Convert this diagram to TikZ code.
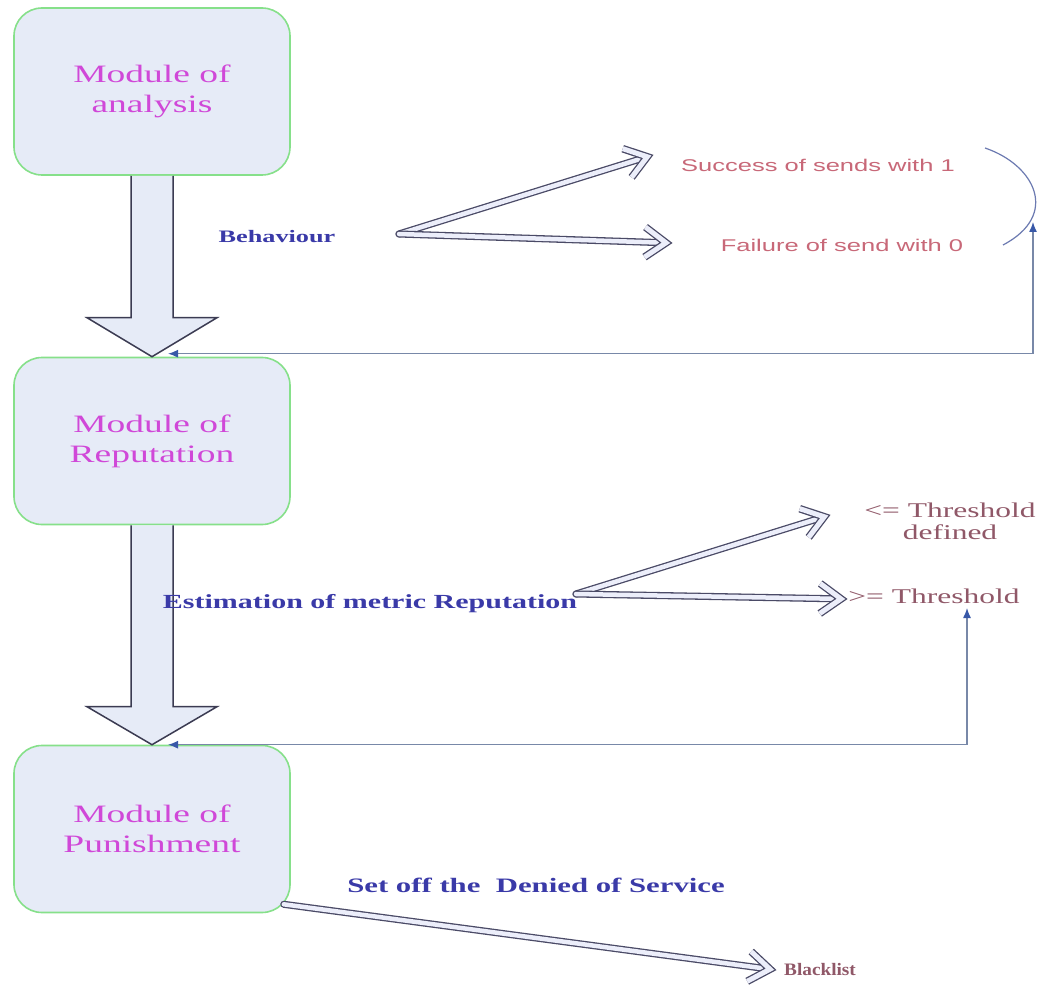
\documentclass[tikz,border=0pt]{standalone}
\usepackage{fontspec}
\setmainfont{Liberation Serif}[FakeStretch=1.5]
\newfontfamily\sansw{Liberation Sans}[FakeStretch=1.5]
\newfontfamily\serifn{Liberation Serif}[FakeStretch=1.1]
\usetikzlibrary{arrows.meta,calc,decorations.markings}
\definecolor{boxfill}{HTML}{E6EBF7}
\definecolor{boxline}{HTML}{86E08A}
\definecolor{modtext}{HTML}{D048D8}
\definecolor{bluetext}{HTML}{3A3AA8}
\definecolor{pinktext}{HTML}{C86878}
\definecolor{mauvetext}{HTML}{905868}
\definecolor{arrline}{HTML}{4A4A66}
\definecolor{arrfill}{HTML}{ECEEFA}
\definecolor{fbline}{HTML}{7888A8}
\definecolor{fbhead}{HTML}{3858A8}
\begin{document}
\begin{tikzpicture}[x=1pt,y=-1pt,
  modbox/.style={draw=boxline, line width=1.6pt, fill=boxfill, rounded corners=28pt,
    minimum width=276pt, minimum height=167pt, align=center, text=modtext,
    font=\fontsize{25}{30}\selectfont},
  bigarrow/.style={draw=arrline!80!black, line width=1.5pt, fill=boxfill, line join=miter},
  chevron/.style={draw=arrline, line width=1.3pt, double=arrfill, double distance=5pt,
    line join=miter, line cap=butt, shorten >=0pt, shorten <=0pt},
  dblarrow/.style={draw=arrline, line width=1.3pt, double=arrfill, double distance=4.5pt,
    line cap=round, shorten >=10pt,
    postaction={decorate, decoration={markings, mark=at position 1 with
      {\draw[chevron] (-27,-15) -- (-6,0) -- (-27,15);}}}},
  fb/.style={draw=fbline, line width=1.3pt, {Latex[length=10pt,width=8pt,fbhead]}-{Latex[length=10pt,width=8pt,fbhead]}},
  bluelbl/.style={text=bluetext, font=\bfseries\fontsize{20}{24}\selectfont},
  sanslbl/.style={text=pinktext, font=\sansw\fontsize{17}{20}\selectfont},
  serlbl/.style={text=mauvetext, font=\fontsize{21}{22}\selectfont, align=center}]
\useasboundingbox (0,0) rectangle (1042,987);
\fill[white] (0,0) rectangle (1042,987);

% boxes
\node[modbox] (box1) at (152,91.5) {Module of\\analysis};
\node[modbox] (box2) at (152,441) {Module of\\Reputation};
\node[modbox] (box3) at (152,829) {Module of\\Punishment};

% big down arrows
\draw[bigarrow] ($(box1.south)+(-21,0)$) -- ($(box2.north)+(-21,-39)$) -- ($(box2.north)+(-65,-39)$)
  -- (box2.north) -- ($(box2.north)+(65,-39)$) -- ($(box2.north)+(21,-39)$) -- ($(box1.south)+(21,0)$);
\draw[bigarrow] ($(box2.south)+(-21,0)$) -- ($(box3.north)+(-21,-38)$) -- ($(box3.north)+(-65,-38)$)
  -- (box3.north) -- ($(box3.north)+(65,-38)$) -- ($(box3.north)+(21,-38)$) -- ($(box2.south)+(21,0)$);

% behaviour
\node[bluelbl, font=\bfseries\fontsize{17.5}{20}\selectfont] (beh) at (277,237) {Behaviour};
\coordinate (fork1) at (399,234);
\node[sanslbl] (succ) at (818,165) {Success of sends with 1};
\node[sanslbl] (fail) at (842,245) {Failure of send with 0};
\coordinate (t1) at (653,155);
\coordinate (t2) at (672,243);
\draw[dblarrow] (fork1) -- (t1);
\draw[dblarrow] (fork1) -- (t2);

% arc and feedback 1
\draw[draw=fbline!90!blue, line width=1.2pt] (985,148) .. controls (1035,165) and (1060,215) .. (1003,245);
\coordinate (fbtop1) at (1033,222);
\draw[fb] (fbtop1) |- ($(box2.north)+(16,-3)$);

% estimation
\node[bluelbl] (est) at (370,604) {Estimation of metric Reputation};
\coordinate (fork2) at (576,594);
\node[serlbl] (thr1) at (950,521) {<= Threshold\\defined};
\node[serlbl] (thr2) at (934,596) {>= Threshold};
\coordinate (t3) at (830,515);
\coordinate (t4) at (847,599);
\draw[dblarrow] (fork2) -- (t3);
\draw[dblarrow] (fork2) -- (t4);

% feedback 2
\coordinate (fbtop2) at (967,608);
\draw[fb] (fbtop2) |- ($(box3.north)+(16,0)$);

% punishment
\node[bluelbl, font=\bfseries\fontsize{20.5}{24}\selectfont] (setoff) at (536,885) {Set off the~ Denied of Service};
\coordinate (pstart) at ($(box3.south east)+(-7,-9)$);
\coordinate (t5) at (776,970);
\draw[dblarrow] (pstart) -- (t5);
\node[text=mauvetext, font=\serifn\bfseries\fontsize{17.5}{20}\selectfont, anchor=west, inner sep=0pt] (black) at (784,970) {Blacklist};
\end{tikzpicture}
\end{document}
